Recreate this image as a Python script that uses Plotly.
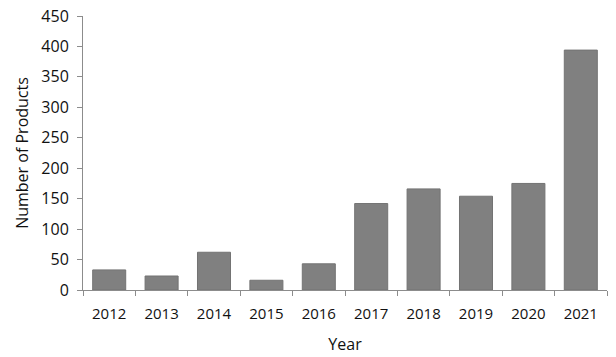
import plotly.graph_objects as go

years = ["2012", "2013", "2014", "2015", "2016", "2017", "2018", "2019", "2020", "2021"]
products = [33, 23, 62, 16, 43, 142, 166, 154, 175, 394]
y_ticks = [0, 50, 100, 150, 200, 250, 300, 350, 400, 450]

font_family = "Open Sans, Noto Sans, DejaVu Sans, sans-serif"

fig = go.Figure(
    go.Bar(
        x=years,
        y=products,
        marker=dict(color="#808080", line=dict(color="#737373", width=1)),
        hoverinfo="skip",
    )
)

fig.update_layout(
    width=616,
    height=357,
    margin=dict(l=83, r=9, t=16, b=67),
    plot_bgcolor="white",
    paper_bgcolor="white",
    bargap=0.37,
    showlegend=False,
    font=dict(family=font_family, size=14, color="#111111"),
)

fig.update_xaxes(
    type="category",
    automargin=False,
    title=dict(text="Year", font=dict(size=16), standoff=16),
    showline=True,
    linecolor="#8c8c8c",
    linewidth=1,
    ticks="outside",
    tickson="boundaries",
    ticklen=5,
    tickcolor="#8c8c8c",
    showgrid=False,
    tickfont=dict(size=15),
    ticklabelstandoff=10,
)

fig.update_yaxes(
    range=[0, 450],
    automargin=False,
    tickvals=y_ticks,
    title=dict(text="Number of Products", font=dict(size=16), standoff=8),
    showline=True,
    linecolor="#8c8c8c",
    linewidth=1,
    ticks="outside",
    ticklen=5,
    tickcolor="#8c8c8c",
    showgrid=False,
    zeroline=False,
    tickfont=dict(size=16),
    ticklabelstandoff=5,
)

# Remove the browser's default 8px body margin so the figure fills the window exactly.
fig.write_html(
    "out.html",
    config={"displayModeBar": False, "staticPlot": True},
    post_script="document.body.style.margin='0';",
)
